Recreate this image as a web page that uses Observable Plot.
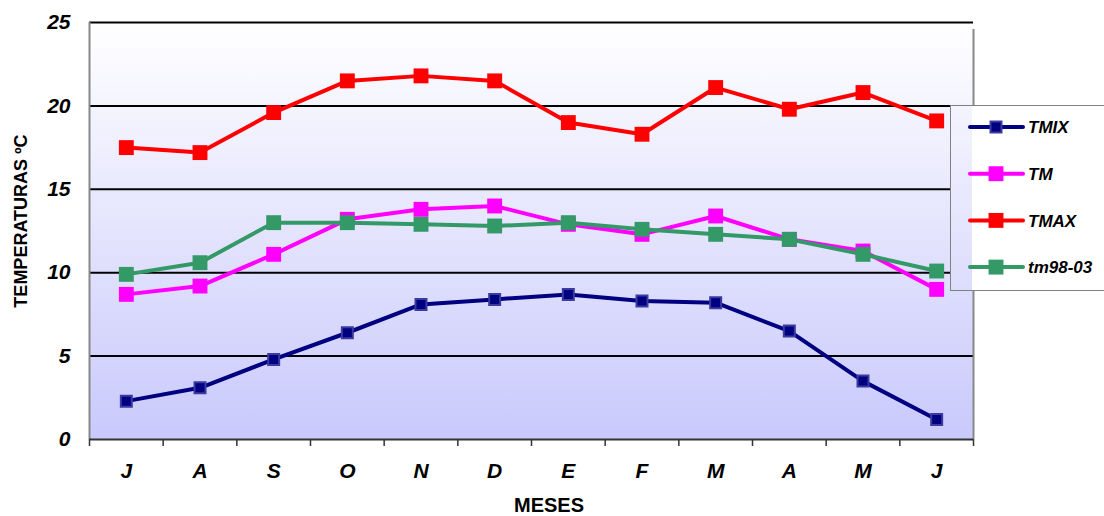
<!DOCTYPE html>
<html>
<head>
<meta charset="utf-8">
<script src="https://cdn.jsdelivr.net/npm/d3@7"></script>
<script src="https://cdn.jsdelivr.net/npm/@observablehq/plot@0.6"></script>
<style>
  html, body { margin: 0; padding: 0; background: #fff; }
  #chart svg { display: block; }
  #chart text { font-family: "Liberation Sans", Arial, sans-serif; }
</style>
</head>
<body>
<div id="chart"></div>
<script>
// Months from July to June
const months = ["J", "A", "S", "O", "N", "D", "E", "F", "M", "A", "M", "J"];
const yTicks = [0, 5, 10, 15, 20, 25];

// Monthly temperatures (ºC)
const tmix   = [2.3, 3.1, 4.8, 6.4, 8.1, 8.4, 8.7, 8.3, 8.2, 6.5, 3.5, 1.2];
const tm     = [8.7, 9.2, 11.1, 13.2, 13.8, 14.0, 12.9, 12.3, 13.4, 12.0, 11.3, 9.0];
const tmax   = [17.5, 17.2, 19.6, 21.5, 21.8, 21.5, 19.0, 18.3, 21.1, 19.8, 20.8, 19.1];
const tm9803 = [9.9, 10.6, 13.0, 13.0, 12.9, 12.8, 13.0, 12.6, 12.3, 12.0, 11.1, 10.1];

const series = [
  {name: "TMIX",    values: tmix,   color: "#000080", marker: "#000080", border: "#3a3aa0", r: 6.2, sw: 2},
  {name: "TM",      values: tm,     color: "#ff00ff", marker: "#ff00ff", border: "none",    r: 8.4, sw: 0},
  {name: "TMAX",    values: tmax,   color: "#ff0000", marker: "#ff0000", border: "none",    r: 8.4, sw: 0},
  {name: "tm98-03", values: tm9803, color: "#339966", marker: "#339966", border: "none",    r: 8.4, sw: 0}
];

const rows = s => s.values.map((v, i) => ({i: i + 0.5, v}));

const seriesMarks = series.flatMap(s => [
  Plot.line(rows(s), {x: "i", y: "v", stroke: s.color, strokeWidth: 4, strokeLinejoin: "round"}),
  Plot.dot(rows(s), {x: "i", y: "v", symbol: "square", r: s.r, fill: s.marker,
    stroke: s.border, strokeWidth: s.sw})
]);

const labelFont = {fontSize: 21, fontWeight: "bold", fontStyle: "italic", fill: "#000"};

const W = 1104, H = 516;
const plot = Plot.plot({
  width: W,
  height: H,
  marginLeft: 89,
  marginRight: 131,
  marginTop: 22,
  marginBottom: 77,
  x: {type: "linear", domain: [0, 12]},
  y: {domain: [0, 25]},
  marks: [
    Plot.frame({fill: "url(#plotBg)", stroke: "none"}),
    Plot.ruleY(yTicks.slice(1), {stroke: "#000", strokeWidth: 2}),
    Plot.ruleX([0], {stroke: "#888", strokeWidth: 2}),
    Plot.ruleX([12], {y1: 0, y2: 25, stroke: "#888", strokeWidth: 2, insetBottom: -7}),
    // month boundary ticks
    Plot.axisX({ticks: d3.range(13), tickSize: 7, stroke: "#333", strokeWidth: 1.5, tickFormat: () => "", label: null}),
    Plot.axisY({ticks: yTicks, tickSize: 0, tickFormat: () => "", label: null}),
    // tick labels
    Plot.text(months, {x: (d, i) => i + 0.5, y: 0, dy: 32, text: d => d, textAnchor: "middle",
      lineAnchor: "middle", ...labelFont}),
    Plot.text(yTicks, {x: 0, y: d => d, dx: -19, text: d => String(d), textAnchor: "end",
      lineAnchor: "middle", ...labelFont}),
    Plot.ruleY([0], {stroke: "#333", strokeWidth: 2}),
    ...seriesMarks
  ]
});

const svg = d3.select(plot);
svg.style("font-family", "'Liberation Sans', Arial, sans-serif").style("color", "#000");

const xs = plot.scale("x"), ys = plot.scale("y");
const x1 = xs.apply(12);
const yTop = ys.apply(25), yBot = ys.apply(0);

// Background gradient of the plotting area
const grad = svg.insert("defs", ":first-child").append("linearGradient")
  .attr("id", "plotBg").attr("gradientUnits", "userSpaceOnUse")
  .attr("x1", 0).attr("x2", 0).attr("y1", yTop).attr("y2", yBot);
grad.append("stop").attr("offset", "0%").attr("stop-color", "#ffffff");
grad.append("stop").attr("offset", "100%").attr("stop-color", "#c9c9fc");

// Axis titles
svg.append("text")
  .attr("transform", `translate(27,221) rotate(-90)`)
  .attr("text-anchor", "middle")
  .attr("font-size", 18).attr("font-weight", "bold").attr("fill", "#000")
  .text("TEMPERATURAS ºC");
svg.append("text")
  .attr("x", 549).attr("y", 512)
  .attr("text-anchor", "middle")
  .attr("font-size", 20).attr("font-weight", "bold").attr("fill", "#000")
  .text("MESES");

// Legend box
const lg = svg.append("g").attr("text-anchor", "start");
const lx = 950, ly = 105, lw = 170, lh = 186;
lg.append("rect").attr("x", lx).attr("y", ly).attr("width", lw).attr("height", lh).attr("fill", "#fff");
lg.append("rect").attr("x", lx).attr("y", ly).attr("width", x1 - lx - 1).attr("height", lh).attr("fill", "url(#plotBg)");
lg.append("rect").attr("x", lx + 0.5).attr("y", ly + 0.5).attr("width", lw).attr("height", lh - 1)
  .attr("fill", "none").attr("stroke", "#808080").attr("stroke-width", 1);
series.forEach((s, k) => {
  const cy = 127 + k * 46.7;
  lg.append("line").attr("x1", 970).attr("x2", 1023).attr("y1", cy).attr("y2", cy)
    .attr("stroke", s.color).attr("stroke-width", 4).attr("stroke-linecap", "round");
  const side = Math.sqrt(Math.PI) * s.r;
  lg.append("rect").attr("x", 996 - side / 2).attr("y", cy - side / 2).attr("width", side).attr("height", side)
    .attr("fill", s.marker).attr("stroke", s.border).attr("stroke-width", s.sw);
  lg.append("text").attr("x", 1028).attr("y", cy).attr("dy", "0.36em")
    .attr("text-anchor", "start")
    .attr("font-size", 17).attr("font-weight", "bold").attr("font-style", "italic").attr("fill", "#000")
    .text(s.name);
});

document.getElementById("chart").appendChild(plot);
</script>
</body>
</html>
